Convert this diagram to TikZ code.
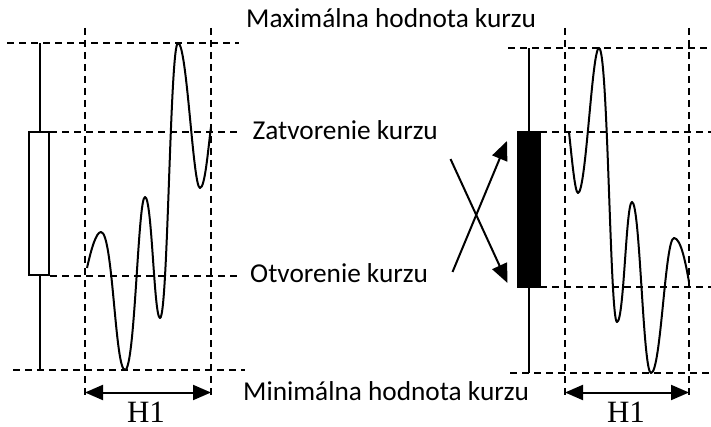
\documentclass[tikz,border=0pt]{standalone}
\usepackage{fontspec}
\setmainfont{Carlito}
\newfontfamily\hfont{Liberation Serif}
\usetikzlibrary{arrows.meta}
\tikzset{
  guide/.style={dash pattern=on 7pt off 5pt,line width=1.5pt},
  wick/.style={line width=2pt},
  price/.style={line width=2pt,line join=round},
  span/.style={{Triangle[length=18pt,width=15pt]}-{Triangle[length=18pt,width=15pt]},line width=2pt},
  swap/.style={-{Triangle[length=19pt,width=16pt]},line width=2pt},
  lbl/.style={anchor=base west,inner sep=0pt,font=\fontsize{27.3}{30}\selectfont},
  hlbl/.style={anchor=base,inner sep=0pt,font=\hfont\fontsize{31}{34}\selectfont}
}
\begin{document}
\begin{tikzpicture}[x=1pt,y=-1pt]
  \useasboundingbox (0,0) rectangle (711,427);
  % left candle: rising
  \coordinate (lt) at (40,43);
  \coordinate (lb) at (40,370);
  \draw[guide] (7,43)--(239,43);
  \draw[guide] (50,132)--(238,132);
  \draw[guide] (50,276)--(238,276);
  \draw[guide] (13,370)--(245,370);
  \draw[guide] (85,28)--(85,398);
  \draw[guide] (211,28)--(211,398);
  \draw[wick] (lt)--(lb);
  \draw[wick,fill=white] (29,132) rectangle (49,275);
  \draw[price] (87,268) .. controls (91,250) and (96,232) .. (101,232)
    .. controls (113,232) and (115,370) .. (125,370)
    .. controls (135,370) and (138,197) .. (145,197)
    .. controls (152,197) and (154,318) .. (160,318)
    .. controls (168,318) and (170,43) .. (178,43)
    .. controls (187,43) and (193,188) .. (200,188)
    .. controls (205,188) and (208,150) .. (211,127);
  \draw[span] (85,392.5)--(211,392.5);
  \node[hlbl] (h1l) at (146,422.5) {H1};
  % right candle: falling
  \coordinate (rt) at (529,48);
  \coordinate (rb) at (529,373);
  \draw[guide] (508,48)--(711,48);
  \draw[guide] (540,132)--(711,132);
  \draw[guide] (540,287)--(711,287);
  \draw[guide] (510,373)--(711,373);
  \draw[guide] (565,28)--(565,398);
  \draw[guide] (689,28)--(689,398);
  \draw[wick] (rt)--(rb);
  \draw[wick,fill=black] (518,132) rectangle (540,287);
  \draw[price] (569,132) .. controls (572,160) and (575,193) .. (578,193)
    .. controls (586,193) and (592,48) .. (599,48)
    .. controls (608,48) and (610,322) .. (617,322)
    .. controls (624,322) and (626,202) .. (632,202)
    .. controls (640,202) and (643,373) .. (651,373)
    .. controls (661,373) and (665,238) .. (674,238)
    .. controls (681,238) and (686,265) .. (689,282);
  \draw[span] (565,392.5)--(689,392.5);
  \node[hlbl] (h1r) at (626,422.5) {H1};
  % open/close swap
  \coordinate (a1) at (452.5,272);
  \coordinate (a2) at (507,141);
  \coordinate (b1) at (450.5,159);
  \coordinate (b2) at (507.5,283);
  \draw[swap] (a1)--(a2);
  \draw[swap] (b1)--(b2);
  % labels
  \node[lbl] (max) at (246,28) {Maximálna hodnota kurzu};
  \node[lbl] (close) at (252.5,139.5) {Zatvorenie kurzu};
  \node[lbl] (open) at (250,283) {Otvorenie kurzu};
  \node[lbl] (min) at (243,400) {Minimálna hodnota kurzu};
\end{tikzpicture}
\end{document}
